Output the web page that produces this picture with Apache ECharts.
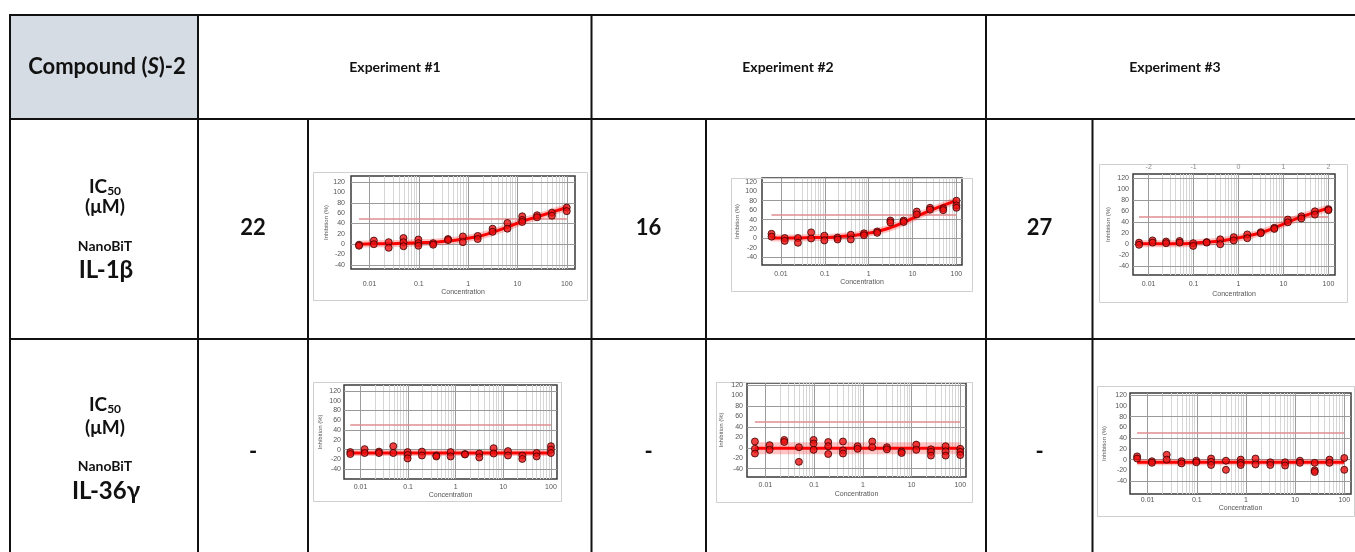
<!DOCTYPE html>
<html>
<head>
<meta charset="utf-8">
<script src="https://cdn.jsdelivr.net/npm/echarts@6/dist/echarts.min.js"></script>
<style>
  html, body { margin: 0; padding: 0; background: #fff; }
  #chart { width: 1355px; height: 552px; }
</style>
</head>
<body>
<div id="chart"></div>
<script>
// Two-fold dilution series (µM) shared by every dose-response panel
const concentrations = [0.0061, 0.0122, 0.0244, 0.0488, 0.0977, 0.195, 0.391, 0.781, 1.5625, 3.125, 6.25, 12.5, 25, 50, 100];

const experiments = ['Experiment #1', 'Experiment #2', 'Experiment #3'];
const il1bIC50 = ['22', '16', '27'];
const il36gIC50 = ['-', '-', '-'];

// Replicate % inhibition at each concentration
const il1bExp1 = [[-1, -3], [7, 0], [4, -7], [12, 4, -4], [9, 2, -3], [2, -1], [10, 8], [15, 4], [16, 10], [30, 24], [41, 30], [54, 47, 43], [56, 52], [61, 55], [71, 64]];
const il1bExp2 = [[10, 4], [1, -5], [1, -9], [13, 0], [6, -4], [2, -2], [8, -2], [11, 7], [15, 12], [38, 34], [38, 35], [57, 51], [65, 61], [64, 60], [80, 70, 65]];
const il1bExp3 = [[3, -1], [7, 3], [5, 2], [6, 3], [2, -3], [4, 3], [9, 0], [13, 7], [18, 11], [22, 20], [30, 28], [45, 40], [51, 47], [60, 54], [64, 62]];
const il36gExp1 = [[-5, -9], [1, -7], [-4, -7], [7, -7], [-5, -11, -18], [-4, -12], [-12, -14], [-5, -14], [-9, -10], [-8, -16], [3, -8], [-3, -12], [-12, -19], [-7, -14], [7, 0, -7]];
const il36gExp2 = [[12, -2, -11], [5, -4], [15, 11], [1, -27], [15, 8, -4], [11, 3, -12], [12, -5, -11], [3, -2], [12, 1], [1, -3], [-7, -10], [6, -4], [-3, -8, -15], [3, -7, -15], [-2, -8, -14]];
const il36gExp3 = [[6, 2], [-3, -6], [9, 0], [-3, -7], [-2, -5], [2, -4, -10], [-2, -19], [0, -6, -10], [2, -9], [-5, -10], [-5, -11], [-2, -6], [-6, -20, -23], [0, -6], [3, -19]];

// Fitted curve values at each concentration
const il1bFit1 = [0, 1, 1, 2, 3, 4, 6, 10, 15, 23, 33, 44, 53, 62, 71];
const il1bFit2 = [1, 1, 1, 2, 2, 4, 6, 10, 15, 23, 34, 47, 59, 70, 80];
const il1bFit3 = [1, 1, 1, 1, 2, 4, 6, 10, 15, 21, 30, 40, 50, 58, 66];
const il36gFit1 = [-7, -7, -7, -7, -7, -7, -7, -7, -7, -7, -7, -7, -7, -7, -7];
const il36gFit2 = [-1, -1, -1, -1, -1, -1, -1, -1, -1, -1, -1, -1, -1, -1, -1];
const il36gFit3 = [-5, -5, -5, -5, -5, -5, -5, -5, -5, -5, -5, -5, -5, -5, -5];

const xTickLabels = ['0.01', '0.1', '1', '10', '100'];
const yTickLabels = [-40, -20, 0, 20, 40, 60, 80, 100, 120];
const yGridValues = [-40, 0, 40, 80, 120];
const halfMaxLevel = 50;

const TABLE_FONT = 'Lato, "Noto Sans", sans-serif';
const AXIS_FONT = '"Liberation Sans", Arial, sans-serif';

// Panel placement: frame box, plot box, axis ranges and label spacing
const panels = [
  { reps: il1bExp1, fit: il1bFit1, frame: [313, 172, 274, 128], plot: [351, 176, 224, 93], xr: [0.0042, 147], yr: [-48, 132], xm: 12, xg: 20, ym: 6, yg: 22, band: 7 },
  { reps: il1bExp2, fit: il1bFit2, frame: [731, 178, 241, 113], plot: [762, 178, 200, 87], xr: [0.0037, 134], yr: [-56, 128], xm: 6, xg: 14, ym: 5, yg: 22, band: 7 },
  { reps: il1bExp3, fit: il1bFit3, frame: [1099, 164, 248, 138], plot: [1133, 174, 202, 101], xr: [0.00448, 140], yr: [-56, 128], xm: 6, xg: 16, ym: 4, yg: 22, band: 7, topAxis: true },
  { reps: il36gExp1, fit: il36gFit1, frame: [313, 382, 248, 119], plot: [344, 385, 213, 94], xr: [0.0045, 134], yr: [-60, 132], xm: 5, xg: 13, ym: 3, yg: 21, band: 6 },
  { reps: il36gExp2, fit: il36gFit2, frame: [716, 382, 256, 120], plot: [747, 383, 219, 94], xr: [0.0042, 131], yr: [-56, 124], xm: 5, xg: 14, ym: 4, yg: 23, band: 12 },
  { reps: il36gExp3, fit: il36gFit3, frame: [1097, 386, 257, 130], plot: [1130, 393, 221, 101], xr: [0.00437, 137], yr: [-64, 124], xm: 3, xg: 10, ym: 3, yg: 23, band: 6 }
];

function decadeLabel(v) {
  const e = Math.log10(v);
  const r = Math.round(e);
  if (Math.abs(e - r) > 1e-6) return '';
  const s = xTickLabels[r + 2];
  return s === undefined ? '' : s;
}

function gridLinesFor(p) {
  const lines = [];
  for (let k = -3; k <= 2; k++) {
    for (let m = 1; m <= 9; m++) {
      const v = m * Math.pow(10, k);
      if (v <= p.xr[0] || v >= p.xr[1]) continue;
      lines.push({ xAxis: v, lineStyle: { color: m === 1 ? '#9c9c9c' : '#d6d6d6', width: 1, type: 'solid' } });
    }
  }
  yGridValues.forEach(v => lines.push({ yAxis: v, lineStyle: { color: '#9a9a9a', width: 1, type: 'solid' } }));
  lines.push([
    { coord: [concentrations[0], halfMaxLevel], lineStyle: { color: '#df8c8c', width: 1.5, type: 'solid' } },
    { coord: [concentrations[concentrations.length - 1], halfMaxLevel] }
  ]);
  return lines;
}

const grids = [], xAxes = [], yAxes = [], series = [], graphics = [];

panels.forEach((p, i) => {
  grids.push({
    left: p.plot[0], top: p.plot[1], width: p.plot[2], height: p.plot[3],
    show: true, borderColor: '#3a3a3a', borderWidth: 1.5, backgroundColor: 'transparent'
  });
  const xi = xAxes.length;
  xAxes.push({
    type: 'log', logBase: 10, gridIndex: i, min: p.xr[0], max: p.xr[1],
    axisLine: { show: false }, axisTick: { show: false }, splitLine: { show: false },
    axisLabel: { fontSize: 7, color: '#555', fontFamily: AXIS_FONT, margin: p.xm, formatter: decadeLabel },
    name: 'Concentration', nameLocation: 'middle', nameGap: p.xg,
    nameTextStyle: { fontSize: 7, color: '#555', fontFamily: AXIS_FONT }
  });
  if (p.topAxis) {
    xAxes.push({
      type: 'log', logBase: 10, gridIndex: i, position: 'top', min: p.xr[0], max: p.xr[1],
      axisLine: { show: false }, axisTick: { show: false }, splitLine: { show: false },
      axisLabel: {
        fontSize: 7, color: '#8a8a8a', fontFamily: AXIS_FONT, margin: 3,
        formatter: v => decadeLabel(v) === '' ? '' : String(Math.round(Math.log10(v)))
      }
    });
  }
  yAxes.push({
    type: 'value', gridIndex: i, min: p.yr[0], max: p.yr[1], interval: 4,
    axisLine: { show: false }, axisTick: { show: false }, splitLine: { show: false },
    axisLabel: {
      interval: 0, fontSize: 7, color: '#555', fontFamily: AXIS_FONT, margin: p.ym,
      formatter: v => (yTickLabels.indexOf(v) >= 0 ? String(v) : '')
    },
    name: 'Inhibition (%)', nameLocation: 'middle', nameRotate: 90, nameGap: p.yg,
    nameTextStyle: { fontSize: 6, color: '#555', fontFamily: AXIS_FONT }
  });

  const fitData = concentrations.map((c, j) => [c, p.fit[j]]);
  const points = [];
  p.reps.forEach((vals, j) => vals.forEach(v => points.push([concentrations[j], v])));

  series.push({
    type: 'line', xAxisIndex: xi, yAxisIndex: i, data: [], z: 1, silent: true,
    markLine: { silent: true, z: 1, symbol: ['none', 'none'], label: { show: false }, animation: false, data: gridLinesFor(p) }
  });
  series.push({
    type: 'line', xAxisIndex: xi, yAxisIndex: i, data: fitData, smooth: true, showSymbol: false, z: 2, silent: true,
    lineStyle: { width: p.band, color: 'rgba(255,40,40,0.28)' }
  });
  series.push({
    type: 'line', xAxisIndex: xi, yAxisIndex: i, data: fitData, smooth: true, showSymbol: false, z: 3, silent: true,
    lineStyle: { width: 3, color: '#ff0000' }
  });
  series.push({
    type: 'scatter', xAxisIndex: xi, yAxisIndex: i, data: points, z: 4, symbolSize: 7,
    itemStyle: { color: '#ec1010', borderColor: '#3a0000', borderWidth: 1 }
  });

  graphics.push({
    type: 'rect', z: 0, silent: true,
    shape: { x: p.frame[0] + 0.5, y: p.frame[1] + 0.5, width: p.frame[2], height: p.frame[3] },
    style: { fill: 'none', stroke: '#cfcfcf', lineWidth: 1 }
  });
});

// Table: header fill, ruling, and cell texts
graphics.push({ type: 'rect', z: 0, silent: true, shape: { x: 10, y: 15, width: 188, height: 104 }, style: { fill: '#d6dce4' } });

const hLines = [[9, 15, 1355], [9, 119, 1355], [9, 339, 1355]];
hLines.forEach(h => graphics.push({
  type: 'line', z: 10, silent: true,
  shape: { x1: h[0], y1: h[1], x2: h[2], y2: h[1] }, style: { stroke: '#111', lineWidth: 2 }
}));
const vLines = [[10, 14], [198, 14], [591.5, 14], [986, 14], [308, 118], [706, 118], [1092.5, 118]];
vLines.forEach(v => graphics.push({
  type: 'line', z: 10, silent: true,
  shape: { x1: v[0], y1: v[1], x2: v[0], y2: 552 }, style: { stroke: '#111', lineWidth: 2 }
}));

function txt(x, y, text, size, extra) {
  return {
    type: 'text', z: 11, silent: true,
    style: Object.assign({
      x: x, y: y, text: text, align: 'center', verticalAlign: 'middle',
      fontFamily: TABLE_FONT, fontWeight: 'bold', fontSize: size, fill: '#111'
    }, extra || {})
  };
}

graphics.push(txt(107, 67, '{b|Compound (}{i|S}{b|)-2}', 22, {
  rich: {
    b: { fontFamily: TABLE_FONT, fontWeight: 'bold', fontSize: 22, fill: '#111' },
    i: { fontFamily: TABLE_FONT, fontWeight: 'bold', fontStyle: 'italic', fontSize: 22, fill: '#111' }
  }
}));
const expCenters = [395, 788, 1175];
experiments.forEach((e, i) => graphics.push(txt(expCenters[i], 67, e, 14)));

const icRich = {
  m: { fontFamily: TABLE_FONT, fontWeight: 'bold', fontSize: 19, fill: '#111' },
  s: { fontFamily: TABLE_FONT, fontWeight: 'bold', fontSize: 12, fill: '#111', padding: [9, 0, 0, 0] }
};
const rowLabels = [
  { y: [187, 207, 246, 270], target: 'IL-1β' },
  { y: [405, 428, 466, 491], target: 'IL-36γ' }
];
rowLabels.forEach(r => {
  graphics.push(txt(105, r.y[0], '{m|IC}{s|50}', 19, { rich: icRich }));
  graphics.push(txt(105, r.y[1], '(μM)', 19));
  graphics.push(txt(105, r.y[2], 'NanoBiT', 14));
  graphics.push(txt(106, r.y[3], r.target, 24));
});

const valueCenters = [253, 648.5, 1039.5];
il1bIC50.forEach((v, i) => graphics.push(txt(valueCenters[i], 228, v, 22)));
il36gIC50.forEach((v, i) => graphics.push(txt(valueCenters[i], 452, v, 22)));

const chart = echarts.init(document.getElementById('chart'), null, { renderer: 'canvas' });
chart.setOption({
  backgroundColor: '#fff',
  animation: false,
  grid: grids,
  xAxis: xAxes,
  yAxis: yAxes,
  series: series,
  graphic: { elements: graphics }
});
</script>
</body>
</html>
